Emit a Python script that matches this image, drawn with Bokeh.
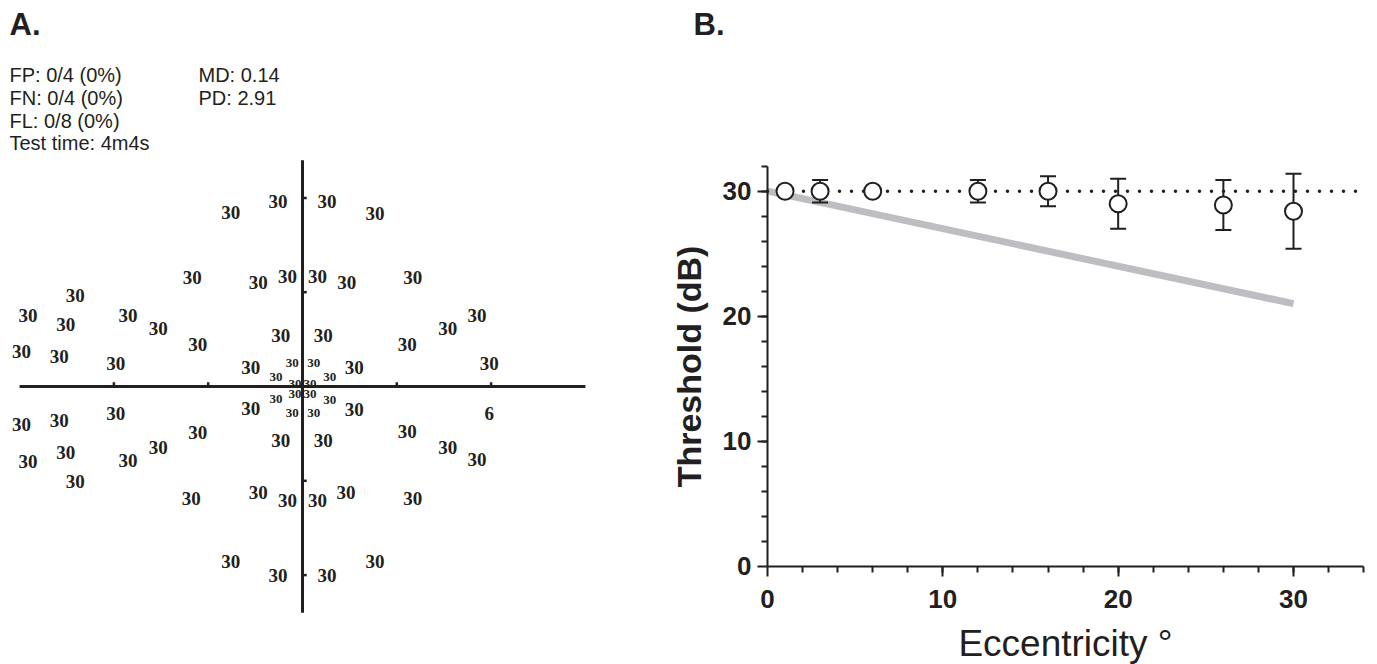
from bokeh.plotting import figure
from bokeh.layouts import row
from bokeh.models import Range1d, FixedTicker, Label
from bokeh.core.properties import value
from bokeh.embed import file_html
from bokeh.resources import INLINE

# ---------------- Panel A data (visual field map, degrees) ----------------
field_x = [-7.6, -2.6, -11.7, -4.7, -1.6, -2.3, -5.5, -24.1, -29.1, -25.1, -18.5, -15.3, -11.1, -29.8, -25.8, -19.8,
           2.6, 7.7, 1.6, 4.7, 11.7, 2.2, 5.5, 11.1, 15.4, 18.5, 19.8,
           5.5, 19.8, 11.1, 15.4, 18.5, 2.2, 1.6, 4.6, 11.7, 7.7, 2.6,
           -5.5, -2.3, -11.1, -15.3, -18.5, -19.8, -25.1, -29.1, -24.1, -29.8, -25.8, -11.8, -4.7, -1.6, -7.6, -2.6,
           -1.1, 1.2, -2.8, 2.9, -2.8, 2.9, -1.1, 1.2,
           -0.8, 0.8, -0.8, 0.8]
field_y = [18.4, 19.6, 11.6, 11.0, 11.7, 5.4, 2.0, 9.7, 7.5, 6.6, 7.5, 6.2, 4.5, 3.7, 3.2, 2.4,
           19.6, 18.3, 11.7, 11.0, 11.6, 5.4, 2.0, 4.5, 6.2, 7.5, 2.4,
           -2.4, -2.9, -4.8, -6.5, -7.7, -5.7, -12.1, -11.2, -11.9, -18.6, -20.0,
           -2.3, -5.7, -4.9, -6.5, -7.9, -2.9, -7.0, -8.0, -10.1, -4.0, -3.6, -11.9, -11.2, -12.1, -18.6, -20.0,
           2.5, 2.5, 1.0, 1.0, -1.3, -1.4, -2.8, -2.8,
           0.3, 0.3, -0.8, -0.8]
field_val = [30] * 28 + [6] + [30] * 37
cross_half_width = 30
cross_half_height = 24
cross_ticks = [-20, -10, 10, 20]
stats_left = ["FP: 0/4 (0%)", "FN: 0/4 (0%)", "FL: 0/8 (0%)", "Test time: 4m4s"]
stats_right = ["MD: 0.14", "PD: 2.91"]

# ---------------- Panel B data ----------------
ecc = [1, 3, 6, 12, 16, 20, 26, 30]
thr = [30, 30, 30, 30, 30, 29.0, 28.9, 28.4]
thr_sd = [0, 0.9, 0, 0.9, 1.2, 2.0, 2.0, 3.0]
model_x = [0, 30]
model_y = [30, 21]
normal_level = 30
x_axis_max = 34
y_axis_max = 32

INK = "#231f20"

# ---------------- Panel A ----------------
S = 9.43            # px per degree
WA, HA = 658, 664
CX, CY = 302, 386   # canvas position of the field origin
pA = figure(width=WA, height=HA,
            x_range=Range1d(-CX / S, (WA - CX) / S),
            y_range=Range1d(-(HA - CY) / S, CY / S),
            x_axis_location=None, y_axis_location=None,
            output_backend="svg", toolbar_location=None, min_border=0)
pA.grid.visible = False
pA.outline_line_color = None


def px2d(px, py):
    """canvas pixel -> panel A data coordinates"""
    return (px - CX) / S, (CY - py) / S


pA.segment(x0=[-cross_half_width, 0], y0=[0, -cross_half_height],
           x1=[cross_half_width, 0], y1=[0, cross_half_height],
           line_width=3, line_color=INK)
pA.segment(x0=cross_ticks, y0=[0] * 4, x1=cross_ticks, y1=[0.45] * 4, line_width=2.5, line_color=INK)
pA.segment(x0=[0] * 4, y0=cross_ticks, x1=[0.45] * 4, y1=cross_ticks, line_width=2.5, line_color=INK)

big = [i for i in range(len(field_x)) if (field_x[i] ** 2 + field_y[i] ** 2) ** 0.5 > 4]
small = [i for i in range(len(field_x)) if i not in big]
for idx, fs in ((big, "19px"), (small, "13px")):
    pA.text(x=[field_x[i] for i in idx], y=[field_y[i] for i in idx],
            text=[str(field_val[i]) for i in idx],
            text_font=value("Liberation Serif"), text_font_style="bold",
            text_font_size=fs, text_align="center", text_baseline="middle",
            text_color=INK)

ax, ay = px2d(9, 24)
pA.text(x=[ax], y=[ay], text=["A."], text_font=value("Liberation Sans"), text_font_style="bold",
        text_font_size="31px", text_baseline="middle", text_color=INK)
mid_rows = [74.5, 97.1, 120.0, 142.1]
lx = [px2d(9, b)[0] for b in mid_rows]
ly = [px2d(9, b)[1] for b in mid_rows]
pA.text(x=lx, y=ly, text=stats_left, text_font=value("Liberation Sans"), text_font_size="20px",
        text_baseline="middle", text_color=INK)
rx = [px2d(198, b)[0] for b in mid_rows[:2]]
pA.text(x=rx, y=ly[:2], text=stats_right, text_font=value("Liberation Sans"), text_font_size="20px",
        text_baseline="middle", text_color=INK)

# ---------------- Panel B ----------------
WB, HB = 1377 - WA, 664
X0_PX, Y0_PX = 767 - WA, 565.7   # canvas position of data (0, 0)
SX = (1293 - 767) / 30.0         # px per degree
SY = 400 / 32.0                  # px per dB
pB = figure(width=WB, height=HB,
            x_range=Range1d(-X0_PX / SX, (WB - X0_PX) / SX),
            y_range=Range1d(-(HB - Y0_PX) / SY, Y0_PX / SY),
            output_backend="svg", toolbar_location=None, min_border=0)
pB.grid.visible = False
pB.outline_line_color = None

pB.xaxis.fixed_location = 0
pB.yaxis.fixed_location = 0
pB.xaxis.bounds = (0, x_axis_max)
pB.yaxis.bounds = (0, y_axis_max)
pB.xaxis.ticker = FixedTicker(ticks=[0, 10, 20, 30], minor_ticks=list(range(2, x_axis_max + 1, 2)))
pB.yaxis.ticker = FixedTicker(ticks=[0, 10, 20, 30], minor_ticks=list(range(2, y_axis_max + 1, 2)))
for ax_ in (pB.xaxis, pB.yaxis):
    ax_.axis_line_width = 2
    ax_.axis_line_color = INK
    ax_.major_tick_line_width = 2
    ax_.minor_tick_line_width = 2
    ax_.major_tick_line_color = INK
    ax_.minor_tick_line_color = INK
    ax_.major_tick_out = 10
    ax_.major_tick_in = 0
    ax_.minor_tick_out = 6
    ax_.minor_tick_in = 0
    ax_.major_label_text_font = "Liberation Sans"
    ax_.major_label_text_font_style = "bold"
    ax_.major_label_text_font_size = "26px"
    ax_.major_label_text_color = INK
    ax_.axis_label_text_color = INK
    ax_.axis_label_text_font = "Liberation Sans"

pB.xaxis.major_label_standoff = 14
pB.xaxis.axis_label = "Eccentricity °"
pB.xaxis.axis_label_text_font_style = "normal"
pB.xaxis.axis_label_text_font_size = "37px"
pB.xaxis.axis_label_standoff = 11

pB.yaxis.major_label_standoff = 6
pB.yaxis.axis_label = "Threshold (dB)"
pB.yaxis.axis_label_text_font_style = "bold"
pB.yaxis.axis_label_text_font_size = "34px"
pB.yaxis.axis_label_standoff = 12

pB.line(model_x, model_y, line_width=7, line_color="#bdbec2", line_cap="butt")
pB.line([0, x_axis_max], [normal_level, normal_level], line_width=3.5, line_color=INK,
        line_dash="0 12", line_cap="round")

ex = [e for e, s in zip(ecc, thr_sd) if s > 0]
elo = [t - s for t, s in zip(thr, thr_sd) if s > 0]
ehi = [t + s for t, s in zip(thr, thr_sd) if s > 0]
pB.segment(x0=ex, y0=elo, x1=ex, y1=ehi, line_width=2, line_color=INK)
pB.scatter(ex + ex, elo + ehi, marker="dash", size=16, line_width=2, line_color=INK)
pB.scatter(ecc, thr, size=17, fill_color="white", line_color=INK, line_width=2)

pB.add_layout(Label(x=(693 - 767) / SX, y=(Y0_PX - 24) / SY, text="B.", text_font="Liberation Sans",
                    text_font_style="bold", text_font_size="31px", text_color=INK,
                    text_baseline="middle"))

layout = row(pA, pB)
open("out.html", "w").write(file_html(layout, INLINE))
